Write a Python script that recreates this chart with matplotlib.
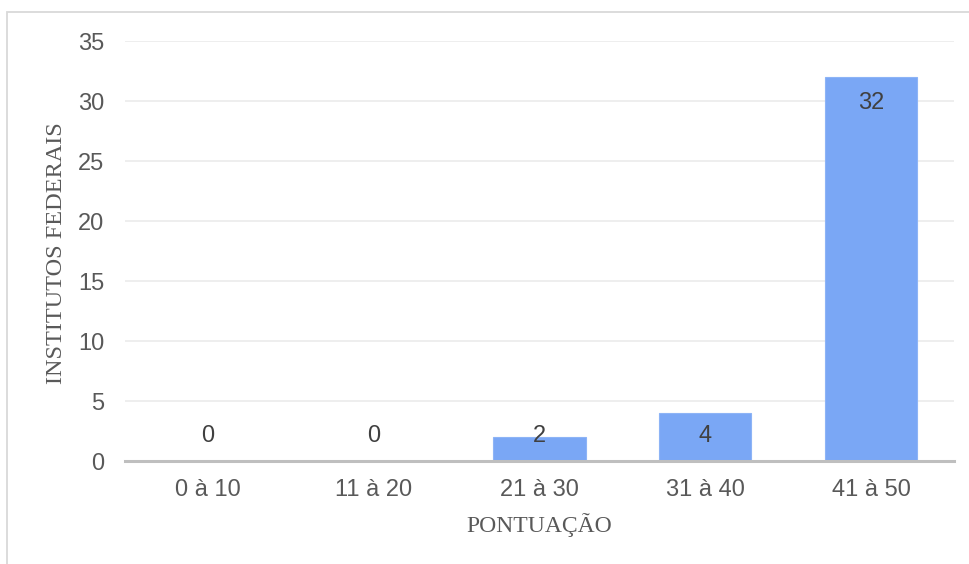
import matplotlib
matplotlib.use("Agg")
import matplotlib.pyplot as plt
from matplotlib.patches import Rectangle

categories = ["0 à 10", "11 à 20", "21 à 30", "31 à 40", "41 à 50"]
values = [0, 0, 2, 4, 32]
y_ticks = [0, 5, 10, 15, 20, 25, 30, 35]

W, H = 969, 564
fig = plt.figure(figsize=(W / 100, H / 100), dpi=100)
fig.patch.set_facecolor("white")

# outer chart frame (top and left edges visible)
fig.add_artist(Rectangle((7 / W, -0.05), 1.2, (H - 12) / H + 0.05,
                         transform=fig.transFigure, fill=False,
                         edgecolor="#D9D9D9", linewidth=1.3))

ax = fig.add_axes([125 / W, 103 / H, (954 - 125) / W, (461 - 41) / H])
x = range(len(categories))
bars = ax.bar(x, values, width=0.555, color="#7AA7F5", edgecolor="#8DB4F6",
              linewidth=0.8, zorder=3)

ax.set_xlim(-0.5, len(categories) - 0.5)
ax.set_ylim(0, 35)
ax.set_yticks(y_ticks)
ax.set_xticks(list(x))
ax.set_xticklabels(categories)

for s in ["top", "right", "left"]:
    ax.spines[s].set_visible(False)
ax.spines["bottom"].set_color("#BFBFBF")
ax.spines["bottom"].set_linewidth(2.2)
ax.spines["bottom"].set_zorder(4)

ax.grid(axis="y", color="#EBEBEB", linewidth=1.2, zorder=0)
ax.tick_params(axis="both", length=0, labelcolor="#595959")
ax.tick_params(axis="y", pad=15)
ax.tick_params(axis="x", pad=13)
for lab in ax.get_xticklabels() + ax.get_yticklabels():
    lab.set_fontfamily("Liberation Sans")
    lab.set_fontsize(17)

# value labels placed inside the bar end, kept above the baseline
for xi, v in zip(x, values):
    ypos = max(v - 2.17, 2.08)
    ax.text(xi, ypos, str(v), ha="center", va="center",
            fontsize=17, family="Liberation Sans", color="#404040", zorder=5)

ax.set_xlabel("PONTUAÇÃO", family="Liberation Serif", fontsize=17,
              color="#595959")
ax.xaxis.set_label_coords(0.5, -(525 - 461) / (461 - 41))
ax.xaxis.label.set_va("center")
ax.set_ylabel("INSTITUTOS FEDERAIS", family="Liberation Serif", fontsize=17.5,
              color="#595959")
ax.yaxis.set_label_coords(-(125 - 56) / (954 - 125), (461 - 253) / (461 - 41))
ax.yaxis.label.set_va("center")

fig.savefig("out.png", dpi=100, facecolor="white")
